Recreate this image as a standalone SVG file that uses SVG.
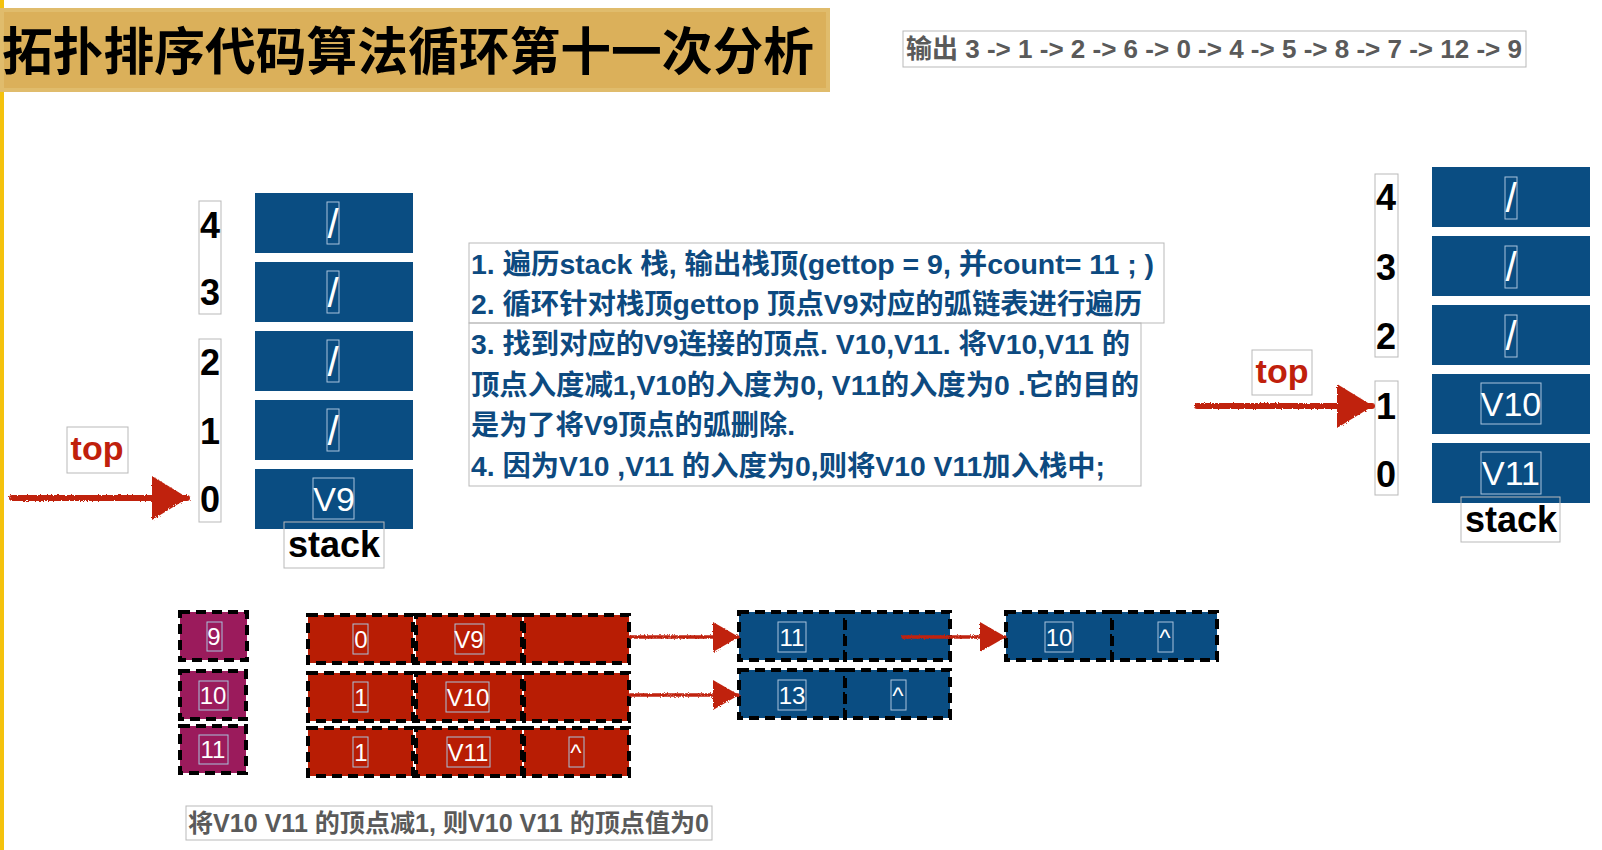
<svg xmlns="http://www.w3.org/2000/svg" width="1602" height="850" viewBox="0 0 1602 850">
<style>
text{font-family:'Liberation Sans','Noto Sans CJK SC',sans-serif}
.title{font-size:51px;font-weight:bold;fill:#000}
.out{font-size:26px;font-weight:bold;fill:#5a5a5a}
.desc{font-size:28px;font-weight:bold;fill:#0d4a80}
.cap{font-size:25px;font-weight:bold;fill:#5a5a5a}
.idx{font-size:36px;font-weight:bold;fill:#000;text-anchor:middle}
.stk{font-size:36px;font-weight:bold;fill:#000;text-anchor:middle}
.top{font-size:34px;font-weight:bold;fill:#c0200c;text-anchor:middle}
.cellt{font-size:34px;fill:#fff;text-anchor:middle}
.sl{font-size:40px;fill:#fff;text-anchor:middle}
.small{font-size:24px;fill:#fff;text-anchor:middle}
.box{fill:none;stroke:#b9b9b9;stroke-width:1}
.ibox{fill:none;stroke:#a9c3dc;stroke-width:1}
.scell{fill:#0a4d82}
.bcell{fill:#0a4d82;stroke:#000;stroke-width:4;stroke-dasharray:10 6}
.rcell{fill:#b81d04;stroke:#000;stroke-width:4;stroke-dasharray:10 6}
.pcell{fill:#9b1b5c;stroke:#000;stroke-width:4;stroke-dasharray:10 6}
.arr{fill:none;stroke:#c0230f;stroke-linecap:round}
</style>
<defs>
<filter id="rough" filterUnits="userSpaceOnUse" x="0" y="0" width="1602" height="850">
<feTurbulence type="fractalNoise" baseFrequency="0.7" numOctaves="2" seed="3"/>
<feDisplacementMap in="SourceGraphic" scale="3"/>
</filter>
<marker id="bigHead" markerWidth="36" markerHeight="44" refX="35" refY="22" orient="auto" markerUnits="userSpaceOnUse">
<path d="M0,0 L36,22 L0,44 Z" fill="#c0230f"/>
</marker>
<marker id="smHead" markerWidth="26" markerHeight="30" refX="25" refY="15" orient="auto" markerUnits="userSpaceOnUse">
<path d="M0,0 L26,15 L0,30 Z" fill="#c0230f"/>
</marker>
</defs>
<rect x="0" y="0" width="1602" height="850" fill="#fff"/>
<rect x="0" y="0" width="4" height="850" fill="#f4c20d"/>

<g id="title">
<rect x="0" y="8" width="830" height="84" fill="#e0bc6c"/>
<rect x="4" y="12" width="822" height="76" fill="#dbb05a"/>
<text class="title" x="2" y="70" textLength="812" lengthAdjust="spacingAndGlyphs">拓扑排序代码算法循环第十一次分析</text>
</g>

<g id="output">
<rect class="box" x="903" y="31" width="623" height="36"/>
<text class="out" x="906" y="58" textLength="616" lengthAdjust="spacingAndGlyphs">输出 3 -&gt; 1 -&gt; 2 -&gt; 6 -&gt; 0 -&gt; 4 -&gt; 5 -&gt; 8 -&gt; 7 -&gt; 12 -&gt; 9</text>
</g>

<g id="left-stack">
<rect class="box" x="199" y="201" width="22" height="113"/>
<rect class="box" x="199" y="339" width="22" height="183"/>
<text class="idx" x="210" y="238">4</text>
<text class="idx" x="210" y="305">3</text>
<text class="idx" x="210" y="375">2</text>
<text class="idx" x="210" y="444">1</text>
<text class="idx" x="210" y="512">0</text>
<rect class="scell" x="255" y="193" width="158" height="60"/>
<rect class="scell" x="255" y="262" width="158" height="60"/>
<rect class="scell" x="255" y="331" width="158" height="60"/>
<rect class="scell" x="255" y="400" width="158" height="60"/>
<rect class="scell" x="255" y="469" width="158" height="60"/>
<rect class="ibox" x="327" y="202" width="12" height="42"/>
<rect class="ibox" x="327" y="271" width="12" height="42"/>
<rect class="ibox" x="327" y="340" width="12" height="42"/>
<rect class="ibox" x="327" y="409" width="12" height="42"/>
<text class="sl" x="333" y="238">/</text>
<text class="sl" x="333" y="307">/</text>
<text class="sl" x="333" y="376">/</text>
<text class="sl" x="333" y="445">/</text>
<rect class="ibox" x="313" y="478" width="41" height="41"/>
<text class="cellt" x="334" y="511">V9</text>
<rect class="box" x="284" y="522" width="100" height="46"/>
<text class="stk" x="334" y="557">stack</text>
<rect class="box" x="67" y="427" width="61" height="46"/>
<text class="top" x="97" y="460">top</text>
</g>

<g id="right-stack">
<rect class="box" x="1375" y="174" width="23" height="183"/>
<rect class="box" x="1375" y="381" width="23" height="114"/>
<text class="idx" x="1386" y="210">4</text>
<text class="idx" x="1386" y="280">3</text>
<text class="idx" x="1386" y="349">2</text>
<text class="idx" x="1386" y="419">1</text>
<text class="idx" x="1386" y="487">0</text>
<rect class="scell" x="1432" y="167" width="158" height="60"/>
<rect class="scell" x="1432" y="236" width="158" height="60"/>
<rect class="scell" x="1432" y="305" width="158" height="60"/>
<rect class="scell" x="1432" y="374" width="158" height="60"/>
<rect class="scell" x="1432" y="443" width="158" height="60"/>
<rect class="ibox" x="1505" y="177" width="12" height="42"/>
<rect class="ibox" x="1505" y="246" width="12" height="42"/>
<rect class="ibox" x="1505" y="315" width="12" height="42"/>
<text class="sl" x="1511" y="212">/</text>
<text class="sl" x="1511" y="281">/</text>
<text class="sl" x="1511" y="350">/</text>
<rect class="ibox" x="1481" y="383" width="60" height="41"/>
<text class="cellt" x="1511" y="416">V10</text>
<rect class="ibox" x="1481" y="452" width="60" height="42"/>
<text class="cellt" x="1511" y="485">V11</text>
<rect class="box" x="1461" y="497" width="99" height="45"/>
<text class="stk" x="1511" y="532">stack</text>
<rect class="box" x="1252" y="350" width="60" height="45"/>
<text class="top" x="1282" y="383">top</text>
</g>

<g id="description">
<rect class="box" x="469" y="243" width="695" height="80"/>
<rect class="box" x="469" y="323" width="672" height="163"/>
<text class="desc" x="471" y="274" textLength="683" lengthAdjust="spacingAndGlyphs">1. 遍历stack 栈, 输出栈顶(gettop = 9, 并count= 11 ; )</text>
<text class="desc" x="471" y="314" textLength="671" lengthAdjust="spacingAndGlyphs">2. 循环针对栈顶gettop 顶点V9对应的弧链表进行遍历</text>
<text class="desc" x="471" y="354" textLength="659" lengthAdjust="spacingAndGlyphs">3. 找到对应的V9连接的顶点. V10,V11. 将V10,V11 的</text>
<text class="desc" x="471" y="395" textLength="668" lengthAdjust="spacingAndGlyphs">顶点入度减1,V10的入度为0, V11的入度为0 .它的目的</text>
<text class="desc" x="471" y="435" textLength="324" lengthAdjust="spacingAndGlyphs">是为了将V9顶点的弧删除.</text>
<text class="desc" x="471" y="476" textLength="634" lengthAdjust="spacingAndGlyphs">4. 因为V10 ,V11 的入度为0,则将V10 V11加入栈中;</text>
</g>

<g id="vertex-list">
<rect class="pcell" x="180" y="612" width="67" height="48"/>
<rect class="pcell" x="180" y="671" width="66" height="48"/>
<rect class="pcell" x="180" y="726" width="66" height="47"/>
<rect class="ibox" x="207" y="622" width="15" height="29"/>
<rect class="ibox" x="199" y="681" width="29" height="29"/>
<rect class="ibox" x="199" y="735" width="29" height="29"/>
<text class="small" x="214" y="645">9</text>
<text class="small" x="213" y="704">10</text>
<text class="small" x="213" y="758">11</text>
</g>

<g id="row-v9">
<rect class="rcell" x="308" y="615" width="105" height="48"/>
<rect class="rcell" x="416" y="615" width="106" height="48"/>
<rect class="rcell" x="524" y="615" width="105" height="48"/>
<rect class="ibox" x="353" y="624" width="15" height="30"/>
<rect class="ibox" x="455" y="624" width="29" height="30"/>
<text class="small" x="361" y="648">0</text>
<text class="small" x="469" y="648">V9</text>
</g>
<g id="row-v10">
<rect class="rcell" x="308" y="673" width="105" height="48"/>
<rect class="rcell" x="416" y="673" width="106" height="48"/>
<rect class="rcell" x="524" y="673" width="105" height="48"/>
<rect class="ibox" x="353" y="682" width="15" height="30"/>
<rect class="ibox" x="446" y="682" width="43" height="30"/>
<text class="small" x="361" y="706">1</text>
<text class="small" x="468" y="706">V10</text>
</g>
<g id="row-v11">
<rect class="rcell" x="308" y="728" width="105" height="48"/>
<rect class="rcell" x="416" y="728" width="106" height="48"/>
<rect class="rcell" x="524" y="728" width="105" height="48"/>
<rect class="ibox" x="353" y="737" width="15" height="30"/>
<rect class="ibox" x="447" y="737" width="43" height="30"/>
<rect class="ibox" x="569" y="737" width="15" height="30"/>
<text class="small" x="361" y="761">1</text>
<text class="small" x="468" y="761">V11</text>
<text class="small" x="576" y="761">^</text>
</g>

<g id="edge-11">
<rect class="bcell" x="739" y="612" width="106" height="48"/>
<rect class="bcell" x="845" y="612" width="105" height="48"/>
<rect class="ibox" x="778" y="622" width="28" height="30"/>
<text class="small" x="792" y="646">11</text>
</g>
<g id="edge-13">
<rect class="bcell" x="739" y="670" width="106" height="48"/>
<rect class="bcell" x="845" y="670" width="105" height="48"/>
<rect class="ibox" x="778" y="680" width="28" height="30"/>
<rect class="ibox" x="891" y="680" width="15" height="30"/>
<text class="small" x="792" y="704">13</text>
<text class="small" x="898" y="704">^</text>
</g>
<g id="edge-10">
<rect class="bcell" x="1006" y="612" width="106" height="48"/>
<rect class="bcell" x="1112" y="612" width="105" height="48"/>
<rect class="ibox" x="1045" y="622" width="28" height="30"/>
<rect class="ibox" x="1158" y="622" width="15" height="30"/>
<text class="small" x="1059" y="646">10</text>
<text class="small" x="1165" y="646">^</text>
</g>

<g id="connectors" filter="url(#rough)">
<path class="arr" d="M12,498 L187,498" stroke-width="6" marker-end="url(#bigHead)"/>
<path class="arr" d="M1197,406 L1372,406" stroke-width="6" marker-end="url(#bigHead)"/>
<path class="arr" d="M630,637 L738,637" stroke-width="3.5" marker-end="url(#smHead)"/>
<path class="arr" d="M630,695 L738,695" stroke-width="3.5" marker-end="url(#smHead)"/>
<path class="arr" d="M903,637 L1005,637" stroke-width="3.5" marker-end="url(#smHead)"/>
</g>

<g id="caption">
<rect class="box" x="186" y="806" width="526" height="34"/>
<text class="cap" x="188" y="832" textLength="521" lengthAdjust="spacingAndGlyphs">将V10 V11 的顶点减1, 则V10 V11 的顶点值为0</text>
</g>
</svg>
